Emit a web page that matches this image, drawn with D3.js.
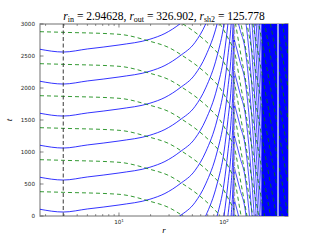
<!DOCTYPE html>
<html>
<head>
<meta charset="utf-8">
<script src="https://cdn.jsdelivr.net/npm/d3@7"></script>
<style>
  body { margin: 0; background: #fff; }
  svg { display: block; }
</style>
</head>
<body>
<div id="chart"></div>
<script>
// radii from the title
const rIn = 2.94628, rOut = 326.902, rSh2 = 125.778;

// outgoing (blue) characteristic inside the shock: t minus its time at r_in
const blueInR  = [1.77, 2.946, 5, 10, 19.7, 27.4, 38.1, 53, 67, 86, 100, 109, 117, 122, 125.778];
const blueInDt = [43, 0, 48, 110, 200, 290, 440, 650, 940, 1440, 1940, 2440, 2940, 3440, 4200];
const blueInLaunch = [-3938, -3438, -2938, -2438, -1938, -1438, -938, -438, 62, 562, 1062, 1562, 2062, 2562];

// ingoing (blue) characteristic outside the shock: t minus its arrival time at r_sh2
const blueOutR  = [125.778, 142.1, 158.6, 197.3, 230.3, 274.2, 326.902, 407];
const blueOutDt = [0, -336, -636, -2436, -4536, -10136, -15736, -22736];
const blueOutLaunch = [250, 750, 1250, 1750, 2250, 2750, 3250, 3750, 4250, 4750,
  5250, 5750, 6250, 6750, 7250, 7750, 8250, 8750, 9250, 9750,
  10250, 10750, 11250, 11750, 12250, 12750, 13250, 13750, 14250, 14750,
  15250, 15750, 16250, 16750, 17250, 17750, 18250, 18750, 19250, 19750,
  20250, 20750, 21250, 21750, 22250, 22750, 23250, 23750, 24250, 24750,
  25250, 25750];
const denseFrom = 230.3; // beyond this radius the lines merge into a solid band

// ingoing (green) characteristic: t minus its time at r_in
const greenR  = [1.77, 2.946, 10, 19.7, 30, 40.7, 59.1, 73.6, 91.6, 114, 125.778,
  142.1, 158.6, 197.3, 230.3, 274.2, 326.902, 407];
const greenDt = [10, 0, -31, -140, -240, -370, -560, -700, -870, -1150, -1300,
  -1776, -2200, -3050, -3645, -4325, -5005, -5855];
const greenLaunch = [370, 870, 1370, 1870, 2370, 2870, 3370, 3870, 4370, 4870,
  5370, 5870, 6370, 6870, 7370, 7870, 8370, 8870];

const yTicks = [0, 500, 1000, 1500, 2000, 2500, 3000];
const xMajor = [10, 100];
const xMajorExp = ["1", "2"];
const xMinor = [2, 3, 4, 5, 6, 7, 8, 9, 20, 30, 40, 50, 60, 70, 80, 90, 200, 300, 400];

const W = 320, H = 240;
const margin = { top: 24, right: 32, bottom: 24, left: 40 };
const width = W - margin.left - margin.right;
const height = H - margin.top - margin.bottom;

const svg = d3.select("#chart").append("svg")
  .attr("width", W).attr("height", H);

const x = d3.scaleLog().domain([1.77, 407]).range([0, width]);
const y = d3.scaleLinear().domain([0, 3000]).range([height, 0]);

const g = svg.append("g")
  .attr("transform", "translate(" + margin.left + "," + margin.top + ")");

svg.append("defs").append("clipPath").attr("id", "plotclip")
  .append("rect").attr("width", width).attr("height", height)
  .attr("x", margin.left).attr("y", margin.top);

const plot = svg.append("g").attr("clip-path", "url(#plotclip)")
  .append("g")
  .attr("transform", "translate(" + margin.left + "," + margin.top + ")");

const line = d3.line()
  .x(d => x(d[0]))
  .y(d => y(d[1]))
  .curve(d3.curveMonotoneX);

function family(rs, dts, launches) {
  return launches.map(t0 => rs.map((r, i) => [r, t0 + dts[i]]));
}

// blue characteristics
plot.selectAll("path.bin")
  .data(family(blueInR, blueInDt, blueInLaunch))
  .enter().append("path")
  .attr("class", "bin")
  .attr("d", line)
  .attr("fill", "none")
  .attr("stroke", "#0000ff")
  .attr("stroke-width", 0.8);

const outer = family(blueOutR, blueOutDt, blueOutLaunch);
plot.selectAll("path.bnear")
  .data(outer.map(c => c.filter(p => p[0] <= denseFrom)))
  .enter().append("path")
  .attr("class", "bnear")
  .attr("d", line)
  .attr("fill", "none")
  .attr("stroke", "#0000ff")
  .attr("stroke-width", 0.7);

plot.selectAll("path.bfar")
  .data(outer.map(c => c.filter(p => p[0] >= denseFrom)))
  .enter().append("path")
  .attr("class", "bfar")
  .attr("d", line)
  .attr("fill", "none")
  .attr("stroke", "#0000ff")
  .attr("stroke-width", 1.5);

// green dashed characteristics
plot.selectAll("path.gr")
  .data(family(greenR, greenDt, greenLaunch))
  .enter().append("path")
  .attr("class", "gr")
  .attr("d", line)
  .attr("fill", "none")
  .attr("stroke", "#008000")
  .attr("stroke-width", 0.8)
  .attr("stroke-dasharray", "4,3");

// radius markers
plot.append("line")
  .attr("x1", x(rIn)).attr("x2", x(rIn))
  .attr("y1", 0).attr("y2", height)
  .attr("stroke", "#222").attr("stroke-width", 0.9)
  .attr("stroke-dasharray", "4,2.5");

plot.append("line")
  .attr("x1", x(rSh2)).attr("x2", x(rSh2))
  .attr("y1", 0).attr("y2", height)
  .attr("stroke", "#aaa").attr("stroke-width", 1.4)
  .attr("stroke-dasharray", "4,2");

plot.append("line")
  .attr("x1", x(rOut)).attr("x2", x(rOut))
  .attr("y1", 0).attr("y2", height)
  .attr("stroke", "#fff").attr("stroke-width", 1.2);

// frame
g.append("rect")
  .attr("width", width).attr("height", height)
  .attr("fill", "none")
  .attr("stroke", "#a0a0a0")
  .attr("stroke-width", 1.5);

// ticks
const tickCol = "#333";
[0, height].forEach(yy => {
  const dir = yy === 0 ? 1 : -1;
  g.selectAll(null).data(xMajor).enter().append("line")
    .attr("x1", d => x(d)).attr("x2", d => x(d))
    .attr("y1", yy).attr("y2", yy + dir * 3.5)
    .attr("stroke", tickCol).attr("stroke-width", 0.6);
  g.selectAll(null).data(xMinor).enter().append("line")
    .attr("x1", d => x(d)).attr("x2", d => x(d))
    .attr("y1", yy).attr("y2", yy + dir * 2)
    .attr("stroke", tickCol).attr("stroke-width", 0.5);
});
[0, width].forEach(xx => {
  const dir = xx === 0 ? 1 : -1;
  g.selectAll(null).data(yTicks).enter().append("line")
    .attr("x1", xx).attr("x2", xx + dir * 3.5)
    .attr("y1", d => y(d)).attr("y2", d => y(d))
    .attr("stroke", tickCol).attr("stroke-width", 0.6);
});

// tick labels
g.selectAll("text.yt").data(yTicks).enter().append("text")
  .attr("class", "yt")
  .attr("x", -5)
  .attr("y", d => y(d))
  .attr("dy", "0.35em")
  .attr("text-anchor", "end")
  .style("font-family", "DejaVu Sans, sans-serif")
  .style("font-size", "5.6px")
  .attr("fill", "#222")
  .text(d => d);

const xl = g.selectAll("text.xt").data(xMajor).enter().append("text")
  .attr("class", "xt")
  .attr("x", d => x(d))
  .attr("y", height + 7.5)
  .attr("text-anchor", "middle")
  .style("font-family", "DejaVu Sans, sans-serif")
  .style("font-size", "5.6px")
  .attr("fill", "#222");
xl.append("tspan").text("10");
xl.append("tspan").attr("dy", "-2").style("font-size", "4px").text((d, i) => xMajorExp[i]);

// axis labels
g.append("text")
  .attr("x", width / 2).attr("y", height + 17)
  .attr("text-anchor", "middle")
  .attr("fill", "#000")
  .style("font-family", "Liberation Serif, serif")
  .style("font-style", "italic")
  .style("font-size", "9px")
  .text("r");

g.append("text")
  .attr("transform", "translate(-28," + (height / 2) + ") rotate(-90)")
  .attr("text-anchor", "middle")
  .attr("fill", "#000")
  .style("font-family", "Liberation Serif, serif")
  .style("font-style", "italic")
  .style("font-size", "9px")
  .text("t");

// title
const title = svg.append("text")
  .attr("x", margin.left + width / 2)
  .attr("y", 20)
  .attr("text-anchor", "middle")
  .attr("fill", "#000")
  .style("font-family", "Liberation Serif, serif")
  .style("font-size", "11.5px");
const parts = [["in", "2.94628, "], ["out", "326.902, "], ["sh2", "125.778"]];
parts.forEach(p => {
  title.append("tspan").style("font-style", "italic").attr("fill", "#000").text("r");
  title.append("tspan").attr("dy", 2).attr("fill", "#000").style("font-size", "8px").text(p[0]);
  title.append("tspan").attr("dy", -2).attr("fill", "#000").text(" = " + p[1]);
});
</script>
</body>
</html>
